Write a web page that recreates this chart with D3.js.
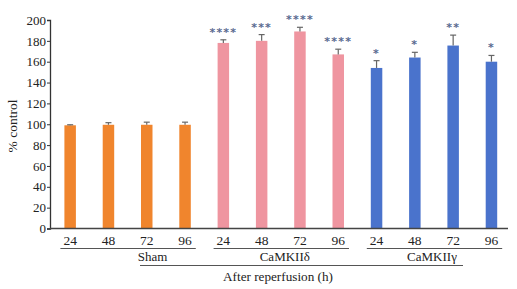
<!DOCTYPE html>
<html>
<head>
<meta charset="utf-8">
<script src="https://cdn.jsdelivr.net/npm/d3@7"></script>
<style>
  body { margin: 0; background: #fff; }
  text { font-family: "Liberation Serif", "Times New Roman", serif; }
</style>
</head>
<body>
<div id="chart"></div>
<script>
// Data
const hours = ["24", "48", "72", "96"];
const groups = ["Sham", "CaMKIIδ", "CaMKIIγ"];
const shamValues = [99, 99.5, 99.5, 99.5];
const deltaValues = [178, 180, 189, 167];
const gammaValues = [154, 164, 175.5, 160];
const shamErrors = [0.5, 2, 2.5, 2.5];
const deltaErrors = [3, 6, 4, 5];
const gammaErrors = [7, 5, 10, 6];
const deltaStars = ["****", "***", "****", "****"];
const gammaStars = ["*", "*", "**", "*"];
const yTicks = [0, 20, 40, 60, 80, 100, 120, 140, 160, 180, 200];
const groupColors = ["#F0852D", "#EF95A0", "#4A73CC"];

const width = 517, height = 289;
const margin = { top: 20, left: 51, bottom: 60 };

const rows = [];
[shamValues, deltaValues, gammaValues].forEach((vals, gi) => {
    vals.forEach((v, i) => {
        rows.push({
            key: gi + "-" + i,
            group: gi,
            hour: hours[i],
            value: v,
            err: [shamErrors, deltaErrors, gammaErrors][gi][i],
            stars: gi === 0 ? "" : (gi === 1 ? deltaStars : gammaStars)[i]
        });
    });
});

const svg = d3.select("#chart").append("svg")
    .attr("width", width)
    .attr("height", height);

const x = d3.scaleBand()
    .domain(rows.map(d => d.key))
    .range([51, 510.6])
    .paddingInner(0.7)
    .paddingOuter(0.35);

const y = d3.scaleLinear()
    .domain([0, 200])
    .range([228.5, 20]);

// Bars
svg.selectAll(".bar")
    .data(rows)
    .enter()
    .append("rect")
    .attr("class", "bar")
    .attr("x", d => x(d.key))
    .attr("y", d => y(d.value))
    .attr("width", x.bandwidth())
    .attr("height", d => y(0) - y(d.value))
    .attr("fill", d => groupColors[d.group]);

// Error bars (upper only)
const eb = svg.selectAll(".err")
    .data(rows)
    .enter()
    .append("g")
    .attr("class", "err")
    .attr("stroke", "#666")
    .attr("stroke-width", 1.2);
eb.append("line")
    .attr("x1", d => x(d.key) + x.bandwidth() / 2)
    .attr("x2", d => x(d.key) + x.bandwidth() / 2)
    .attr("y1", d => y(d.value))
    .attr("y2", d => y(d.value + d.err));
eb.append("line")
    .attr("x1", d => x(d.key) + x.bandwidth() / 2 - 3)
    .attr("x2", d => x(d.key) + x.bandwidth() / 2 + 3)
    .attr("y1", d => y(d.value + d.err))
    .attr("y2", d => y(d.value + d.err));

// Significance stars
svg.selectAll(".stars")
    .data(rows.filter(d => d.stars))
    .enter()
    .append("text")
    .attr("class", "stars")
    .attr("x", d => x(d.key) + x.bandwidth() / 2)
    .attr("y", d => y(d.value + d.err) - 4)
    .attr("text-anchor", "middle")
    .style("font-family", "DejaVu Sans, sans-serif")
    .style("font-size", "11px")
    .style("font-weight", "bold")
    .style("letter-spacing", "1.2px")
    .style("fill", "#5a6a90")
    .text(d => d.stars);

// Y axis
const yAxis = d3.axisLeft(y)
    .tickValues(yTicks)
    .tickSize(3)
    .tickPadding(1);
const yg = svg.append("g")
    .attr("transform", `translate(${margin.left - 1},0)`)
    .call(yAxis);
yg.select(".domain").attr("stroke", "#333").attr("stroke-width", 1.3);
yg.selectAll(".tick line").attr("stroke", "#333");
yg.selectAll(".tick text")
    .style("font-family", "Liberation Serif, serif")
    .style("font-size", "13px")
    .style("fill", "#222");

// Baseline
svg.append("line")
    .attr("x1", margin.left - 1)
    .attr("x2", 508)
    .attr("y1", y(0))
    .attr("y2", y(0))
    .attr("stroke", "#444")
    .attr("stroke-width", 1.5);

// Hour labels
svg.selectAll(".hour")
    .data(rows)
    .enter()
    .append("text")
    .attr("class", "hour")
    .attr("x", d => x(d.key) + x.bandwidth() / 2)
    .attr("y", 245)
    .attr("text-anchor", "middle")
    .style("font-size", "13.5px")
    .style("fill", "#222")
    .text(d => d.hour);

// Group underlines and labels
const labelShift = [25, 4, -2];
groups.forEach((g, gi) => {
    const first = x(gi + "-0");
    const last = x(gi + "-" + (hours.length - 1)) + x.bandwidth();
    svg.append("line")
        .attr("x1", first - 4)
        .attr("x2", last + 5)
        .attr("y1", 248.5)
        .attr("y2", 248.5)
        .attr("stroke", "#555")
        .attr("stroke-width", 1);
    svg.append("text")
        .attr("x", (first + last) / 2 + labelShift[gi])
        .attr("y", 261)
        .attr("text-anchor", "middle")
        .style("font-size", "13px")
        .style("fill", "#222")
        .text(g);
});

// After reperfusion line and label
svg.append("line")
    .attr("x1", 140)
    .attr("x2", 463)
    .attr("y1", 265.5)
    .attr("y2", 265.5)
    .attr("stroke", "#555")
    .attr("stroke-width", 1);
svg.append("text")
    .attr("x", 278)
    .attr("y", 281)
    .attr("text-anchor", "middle")
    .style("font-size", "13.2px")
    .style("fill", "#222")
    .text("After reperfusion (h)");

// Y axis title
svg.append("text")
    .attr("transform", "translate(17,126) rotate(-90)")
    .attr("text-anchor", "middle")
    .style("font-size", "13.5px")
    .style("fill", "#222")
    .text("% control");
</script>
</body>
</html>
